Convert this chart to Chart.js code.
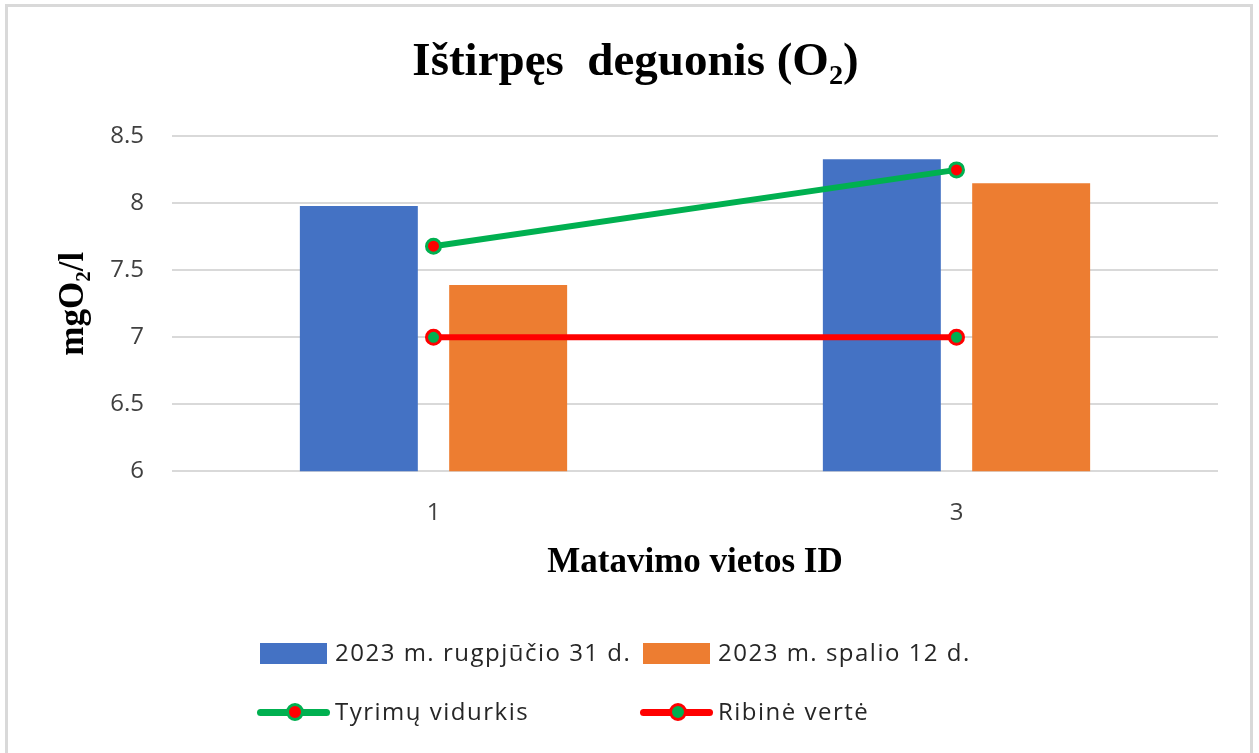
<!DOCTYPE html>
<html>
<head>
<meta charset="utf-8">
<script src="https://cdn.jsdelivr.net/npm/chart.js@4/dist/chart.umd.min.js"></script>
<style>
  body { margin: 0; background: #fff; }
  #wrap { position: relative; width: 1259px; height: 753px; overflow: hidden; }
  #frame { position: absolute; left: 5px; top: 4px; width: 1248px; height: 760px;
           border: 3px solid #d9d9d9; box-sizing: border-box; pointer-events: none; }
  canvas { position: absolute; left: 0; top: 0; }
  .leg { position: absolute; font-family: "Open Sans", sans-serif; font-size: 24px; letter-spacing: 1.5px;
         color: #262626; line-height: 32px; white-space: nowrap; }
  .sw { position: absolute; }
  .ln { position: absolute; height: 7px; border-radius: 4px; }
  .dot { position: absolute; width: 12px; height: 12px; border-radius: 50%; border-width: 3px; border-style: solid; }
</style>
</head>
<body>
<div id="wrap">
  <canvas id="chart" width="1259" height="753"></canvas>
  <div id="frame"></div>
  <div id="legend"></div>
</div>
<script>
// chart values
categories = ["1", "3"];
augValues = [7.98, 8.33];
octValues = [7.39, 8.15];
avgValues = [7.68, 8.25];
limitValues = [7, 7];
seriesLabels = ["2023 m. rugpjūčio 31 d.", "2023 m. spalio 12 d.", "Tyrimų vidurkis", "Ribinė vertė"];
yTicks = [6, 6.5, 7, 7.5, 8, 8.5];

blue = "#4472C4";
orange = "#ED7D31";
green = "#00B050";
red = "#FF0000";

const data = {
  labels: categories,
  datasets: [{
    type: "line",
    label: seriesLabels[2],
    data: avgValues,
    borderColor: green,
    borderWidth: 6,
    pointRadius: 7,
    pointBorderWidth: 3,
    pointBackgroundColor: red,
    pointBorderColor: green,
    order: 0,
  }, {
    type: "line",
    label: seriesLabels[3],
    data: limitValues,
    borderColor: red,
    borderWidth: 6,
    pointRadius: 7,
    pointBorderWidth: 3,
    pointBackgroundColor: green,
    pointBorderColor: red,
    order: 0,
  }, {
    type: "bar",
    label: seriesLabels[0],
    data: augValues,
    backgroundColor: blue,
    categoryPercentage: 0.571,
    barPercentage: 0.79,
    order: 1,
  }, {
    type: "bar",
    label: seriesLabels[1],
    data: octValues,
    backgroundColor: orange,
    categoryPercentage: 0.571,
    barPercentage: 0.79,
    order: 1,
  }]
};

const tickFont = { family: "Open Sans", size: 24 };
const serifBold = { family: "Liberation Serif", weight: "bold" };
const leftPad = 53;

const options = {
  responsive: false,
  animation: false,
  layout: { padding: { left: leftPad, right: 41, top: 0, bottom: 169 } },
  plugins: {
    legend: { display: false },
    tooltip: { enabled: false },
    title: {
      display: true,
      text: "Ištirpęs  deguonis (O₂)",
      color: "#000",
      font: Object.assign({ size: 47 }, serifBold),
      padding: { top: 35, bottom: 45 },
    }
  },
  scales: {
    x: {
      grid: { display: false },
      border: { display: false },
      ticks: { color: "#404040", font: tickFont, padding: 20 },
      title: {
        display: true,
        text: "Matavimo vietos ID",
        color: "#000",
        font: Object.assign({ size: 35 }, serifBold),
        padding: { top: -6, bottom: 0 },
      }
    },
    y: {
      min: 6,
      max: 8.5,
      afterBuildTicks: function(scale) {
        scale.ticks = yTicks.map(function(v) { return { value: v }; });
      },
      afterFit: function(scale) { scale.width = 172 - leftPad; },
      grid: { color: "#d9d9d9", lineWidth: 2, drawTicks: false },
      border: { display: false },
      ticks: { color: "#404040", font: tickFont, padding: 28,
               callback: function(v) { return String(v); } },
      title: {
        display: true,
        text: "mgO₂/l",
        color: "#000",
        font: Object.assign({ size: 35 }, serifBold),
        padding: { top: 0, bottom: 0 },
      }
    }
  }
};

const ctx = document.getElementById("chart").getContext("2d");
myChart = new Chart(ctx, { type: "bar", data: data, options: options });

// legend in two rows, like the original
legendItems = [
  { kind: "box", color: blue, label: seriesLabels[0], x: 260, y: 653 },
  { kind: "box", color: orange, label: seriesLabels[1], x: 643, y: 653 },
  { kind: "line", color: green, dot: red, label: seriesLabels[2], x: 257, y: 712 },
  { kind: "line", color: red, dot: green, label: seriesLabels[3], x: 640, y: 712 },
];
let html = "";
for (let i = 0; i < legendItems.length; i++) {
  const it = legendItems[i];
  if (it.kind == "box") {
    html += '<div class="sw" style="left:' + it.x + 'px;top:' + (it.y - 10) + 'px;width:67px;height:21px;background:' + it.color + '"></div>';
    html += '<div class="leg" style="left:' + (it.x + 75) + 'px;top:' + (it.y - 17) + 'px">' + it.label + '</div>';
  } else {
    html += '<div class="ln" style="left:' + it.x + 'px;top:' + (it.y - 3) + 'px;width:73px;background:' + it.color + '"></div>';
    html += '<div class="dot" style="left:' + (it.x + 29) + 'px;top:' + (it.y - 9) + 'px;background:' + it.dot + ';border-color:' + it.color + '"></div>';
    html += '<div class="leg" style="left:' + (it.x + 78) + 'px;top:' + (it.y - 17) + 'px">' + it.label + '</div>';
  }
}
document.getElementById("legend").innerHTML = html;
</script>
</body>
</html>
